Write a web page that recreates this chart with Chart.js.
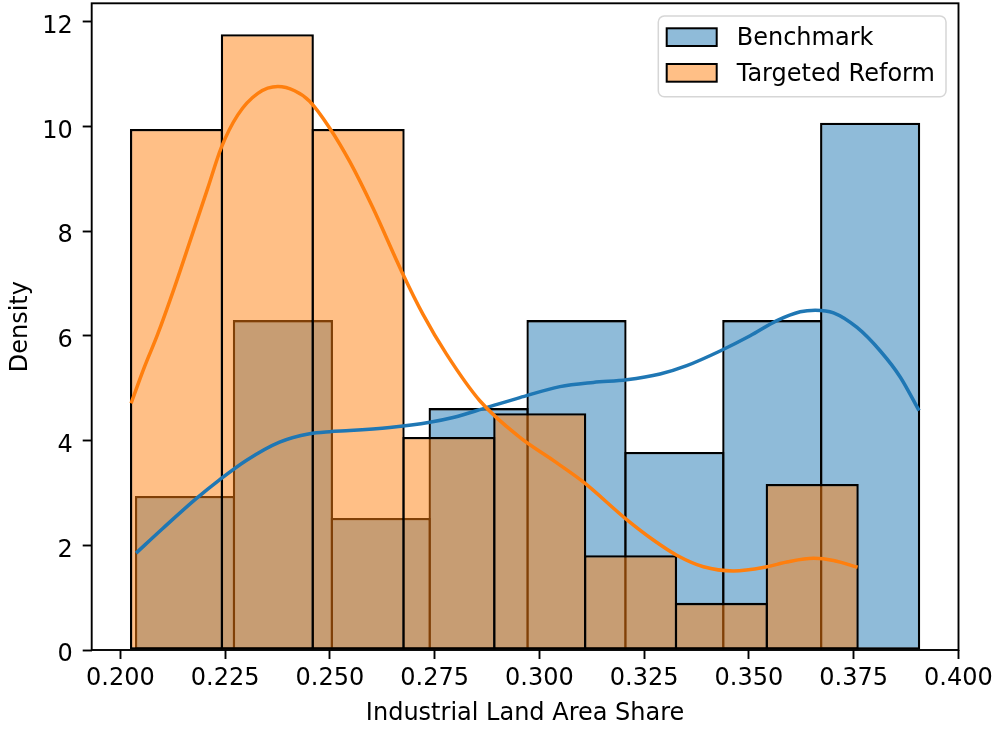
<!DOCTYPE html>
<html>
<head>
<meta charset="utf-8">
<script src="https://cdn.jsdelivr.net/npm/chart.js@4.4.1/dist/chart.umd.min.js"></script>
<style>
  html, body { margin: 0; padding: 0; background: #ffffff; }
  canvas { display: block; }
</style>
</head>
<body>
<canvas id="chart" width="995" height="729"></canvas>
<script>
// ---- data ----
const seriesNames = ['Benchmark', 'Targeted Reform'];

// histogram bin edges and densities
const benchmarkEdges = [0.20375, 0.22711, 0.25047, 0.27382, 0.29718, 0.32054, 0.34390, 0.36726, 0.39061];
const benchmarkDensity = [2.94, 6.30, 2.52, 4.62, 6.30, 3.78, 6.30, 10.07];
const reformEdges = [0.20256, 0.22423, 0.24591, 0.26758, 0.28925, 0.31093, 0.33260, 0.35427, 0.37594];
const reformDensity = [9.95, 11.76, 9.95, 4.07, 4.52, 1.81, 0.90, 3.17];

// kernel density curves
const benchmarkKdeX = [0.20375, 0.21011, 0.21809, 0.22366, 0.23004, 0.23799, 0.24516, 0.24994, 0.25472,
  0.26428, 0.27384, 0.27940, 0.28738, 0.29534, 0.30490, 0.31286, 0.32084, 0.32879, 0.33517, 0.34313,
  0.35030, 0.35668, 0.36225, 0.36583, 0.37020, 0.37580, 0.38136, 0.38614, 0.39061];
const benchmarkKdeY = [1.85, 2.32, 2.89, 3.25, 3.62, 3.97, 4.13, 4.17, 4.19,
  4.25, 4.35, 4.44, 4.63, 4.82, 5.03, 5.11, 5.16, 5.27, 5.43, 5.71,
  6.00, 6.29, 6.46, 6.49, 6.44, 6.16, 5.71, 5.21, 4.57];
const reformKdeX = [0.20256, 0.20573, 0.20891, 0.21290, 0.21689, 0.22086, 0.22406, 0.22803, 0.23281,
  0.23759, 0.24158, 0.24516, 0.24994, 0.25472, 0.26029, 0.26707, 0.27223, 0.27783, 0.28578, 0.29534,
  0.30330, 0.31047, 0.32084, 0.32719, 0.33278, 0.33914, 0.34631, 0.35429, 0.35907, 0.36543, 0.37020, 0.37594];
const reformKdeY = [4.71, 5.40, 6.03, 6.92, 7.87, 8.82, 9.59, 10.22, 10.63,
  10.76, 10.68, 10.48, 9.97, 9.33, 8.44, 7.24, 6.41, 5.65, 4.76, 4.06,
  3.62, 3.21, 2.49, 2.10, 1.81, 1.59, 1.51, 1.59, 1.68, 1.75, 1.71, 1.58];

// axis ticks
const xTicks = [0.200, 0.225, 0.250, 0.275, 0.300, 0.325, 0.350, 0.375, 0.400];
const yTicks = [0, 2, 4, 6, 8, 10, 12];

// ---- helpers ----
const centersOf = edges => edges.slice(0, -1).map((e, i) => (e + edges[i + 1]) / 2);
const toPoints = (xs, ys) => xs.map((x, i) => ({ x, y: ys[i] }));

const BLUE = '#1f77b4';
const ORANGE = '#ff7f0e';
const BLUE_FILL = 'rgba(31,119,180,0.5)';
const ORANGE_FILL = 'rgba(255,127,14,0.5)';
const FONT = { family: '"DejaVu Sans", sans-serif', size: 24 };
const EDGE_WIDTH = 2.3;

// square frame around the plotting area
const axesFrame = {
  id: 'axesFrame',
  afterDatasetsDraw(chart) {
    const { ctx, chartArea: a } = chart;
    ctx.save();
    ctx.strokeStyle = '#000';
    ctx.lineWidth = 1.9;
    ctx.strokeRect(a.left, a.top, a.right - a.left, a.bottom - a.top);
    ctx.restore();
  }
};

// widen each bar by one edge width so that neighbouring bars share a single
// outline centred on the bin boundary instead of two stacked inner borders
const sharedEdges = {
  id: 'sharedEdges',
  afterLayout(chart) {
    let changed = false;
    chart.data.datasets.forEach(ds => {
      if (ds.type !== 'bar') return;
      const scale = chart.scales[ds.xAxisID];
      const c = ds.data;
      const binPx = Math.abs(scale.getPixelForValue(c[1].x) - scale.getPixelForValue(c[0].x));
      const pct = 1 + EDGE_WIDTH / binPx;
      if (Math.abs((ds.barPercentage || 1) - pct) > 1e-6) { ds.barPercentage = pct; changed = true; }
    });
    if (changed && !chart.$edgesSet) { chart.$edgesSet = true; chart.update('none'); }
  }
};

// legend box in the upper right corner of the plotting area
const insetLegend = {
  id: 'insetLegend',
  afterDraw(chart, args, opts) {
    const ctx = chart.ctx;
    const b = opts.box;
    ctx.save();
    ctx.beginPath();
    ctx.roundRect(b.x, b.y, b.w, b.h, b.radius);
    ctx.fillStyle = 'rgba(255,255,255,0.8)';
    ctx.fill();
    ctx.strokeStyle = '#d6d6d6';
    ctx.lineWidth = 1.5;
    ctx.stroke();
    const items = chart.data.datasets.filter(d => d.type === 'bar');
    ctx.font = `${FONT.size}px ${FONT.family}`;
    ctx.textBaseline = 'middle';
    ctx.textAlign = 'left';
    items.forEach((d, i) => {
      const py = b.patchY + i * b.rowGap;
      ctx.fillStyle = d.backgroundColor;
      ctx.fillRect(b.patchX, py, b.patchW, b.patchH);
      ctx.strokeStyle = '#000';
      ctx.lineWidth = 2;
      ctx.strokeRect(b.patchX, py, b.patchW, b.patchH);
      ctx.fillStyle = '#000';
      ctx.fillText(d.label, b.textX, py + b.patchH / 2 + 1.6);
    });
    ctx.restore();
  }
};

const fixedWidth = w => scale => {
  scale.width = w;
  scale.paddingTop = 0; scale.paddingBottom = 0;
};
const fixedHeight = h => scale => {
  scale.height = h;
  scale.paddingLeft = 0; scale.paddingRight = 0;
};

const xRange = { min: 0.19316, max: 0.40002 };

new Chart(document.getElementById('chart'), {
  type: 'bar',
  data: {
    datasets: [
      {
        type: 'line', label: seriesNames[1] + ' KDE', xAxisID: 'x',
        data: toPoints(reformKdeX, reformKdeY),
        borderColor: ORANGE, borderWidth: 3.5, pointRadius: 0,
        cubicInterpolationMode: 'monotone', fill: false, order: 0
      },
      {
        type: 'line', label: seriesNames[0] + ' KDE', xAxisID: 'x',
        data: toPoints(benchmarkKdeX, benchmarkKdeY),
        borderColor: BLUE, borderWidth: 3.5, pointRadius: 0,
        cubicInterpolationMode: 'monotone', fill: false, order: 1
      },
      {
        type: 'bar', label: seriesNames[0], xAxisID: 'x',
        data: toPoints(centersOf(benchmarkEdges), benchmarkDensity),
        backgroundColor: BLUE_FILL, borderColor: '#000', borderWidth: EDGE_WIDTH,
        borderSkipped: false, grouped: false, inflateAmount: 0,
        barPercentage: 1, categoryPercentage: 1, order: 3
      },
      {
        type: 'bar', label: seriesNames[1], xAxisID: 'x2',
        data: toPoints(centersOf(reformEdges), reformDensity),
        backgroundColor: ORANGE_FILL, borderColor: '#000', borderWidth: EDGE_WIDTH,
        borderSkipped: false, grouped: false, inflateAmount: 0,
        barPercentage: 1, categoryPercentage: 1, order: 2
      }
    ]
  },
  options: {
    responsive: false,
    animation: false,
    devicePixelRatio: 1,
    layout: { padding: { left: 0, right: 36.5, top: 3.3, bottom: 0 } },
    plugins: {
      legend: { display: false },
      tooltip: { enabled: false },
      insetLegend: {
        box: { x: 658.3, y: 16, w: 287.7, h: 80.7, radius: 6,
               patchX: 666.7, patchY: 28.3, patchW: 50, patchH: 17.7, rowGap: 35.7, textX: 736.7 }
      }
    },
    scales: {
      x: {
        type: 'linear', position: 'bottom', offset: false,
        min: xRange.min, max: xRange.max,
        afterBuildTicks: axis => { axis.ticks = xTicks.map(v => ({ value: v })); },
        afterFit: fixedHeight(79),
        grid: { display: true, drawOnChartArea: false, drawTicks: true, offset: false,
                tickLength: 9, tickWidth: 1.9, tickColor: '#000' },
        border: { display: false },
        ticks: { color: '#000', font: FONT, padding: 5, maxRotation: 0, autoSkip: false,
                 callback: v => v.toFixed(3) },
        title: { display: true, text: 'Industrial Land Area Share', color: '#000', font: FONT,
                 padding: { top: 0, bottom: 1 } }
      },
      x2: {
        type: 'linear', display: false, offset: false,
        min: xRange.min, max: xRange.max,
        grid: { offset: false }
      },
      y: {
        type: 'linear', position: 'left',
        min: 0, max: 12.35,
        afterBuildTicks: axis => { axis.ticks = yTicks.map(v => ({ value: v })); },
        afterFit: fixedWidth(91.7),
        grid: { display: true, drawOnChartArea: false, drawTicks: true,
                tickLength: 9, tickWidth: 1.9, tickColor: '#000' },
        border: { display: false },
        ticks: { color: '#000', font: FONT, padding: 10, labelOffset: 5,
                 callback: v => String(v) },
        title: { display: true, text: 'Density', color: '#000', font: FONT,
                 padding: { top: 6, bottom: 0 } }
      }
    }
  },
  plugins: [sharedEdges, axesFrame, insetLegend]
});
</script>
</body>
</html>
